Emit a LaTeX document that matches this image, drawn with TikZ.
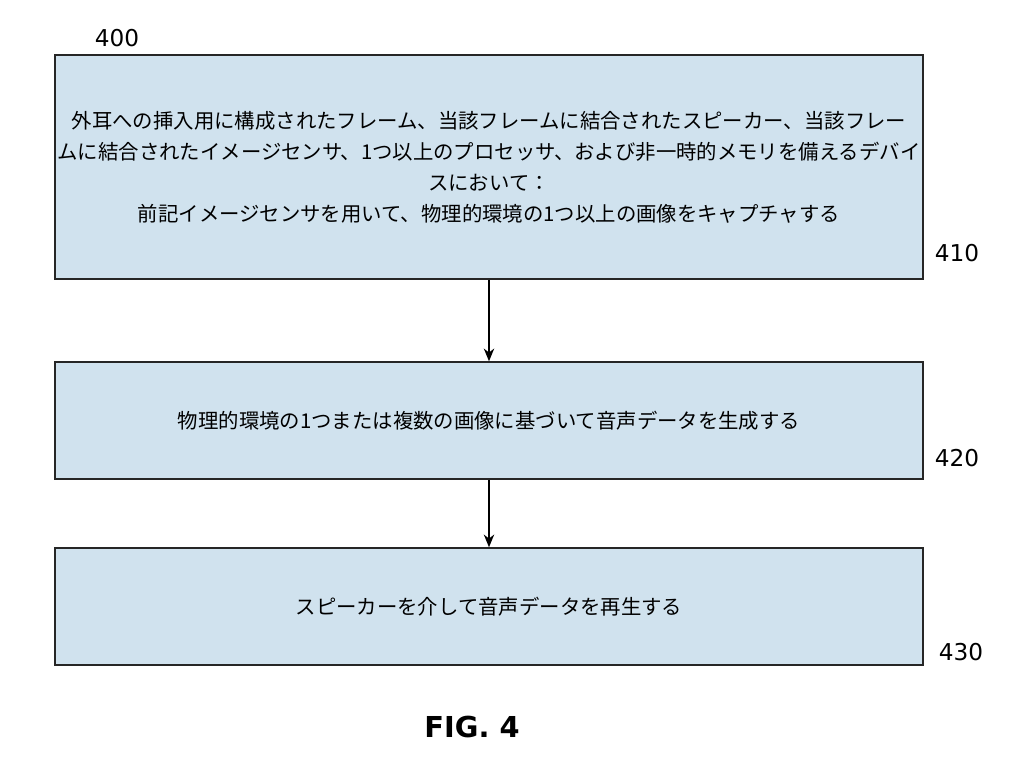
\documentclass[tikz,border=0pt]{standalone}
\usepackage{fontspec}
\setmainfont{DejaVu Sans}
\newfontfamily\jpfont{Noto Sans CJK JP}
\usetikzlibrary{arrows.meta,positioning}
\definecolor{boxblue}{RGB}{208,226,238}

\begin{document}
\begin{tikzpicture}[
  >={Stealth[length=3.2mm,width=2.6mm]},
  line width=1pt,
  block/.style={rectangle, minimum width=21.7cm, minimum height=2.925cm, draw=black!85, fill=boxblue, align=center, inner sep=0pt, font=\jpfont\fontsize{14.5}{22}\selectfont},
  refnum/.style={font=\fontsize{16.5}{18}\selectfont}
]
\useasboundingbox (0,0) rectangle (25.6,19.125);

\node[block, minimum height=5.6cm] (s410) at (12.225,14.95) {%
外耳への挿入用に構成されたフレーム、当該フレームに結合されたスピーカー、当該フレー\\
ムに結合されたイメージセンサ、1つ以上のプロセッサ、および非一時的メモリを備えるデバイ\\
スにおいて：\\
前記イメージセンサを用いて、物理的環境の1つ以上の画像をキャプチャする};
\node[block] (s420) at (12.225,8.6125) {物理的環境の1つまたは複数の画像に基づいて音声データを生成する};
\node[block] (s430) at (12.225,3.9625) {スピーカーを介して音声データを再生する};

\node[refnum] (l400) at (2.925,18.175) {400};
\node[refnum] (l410) at (23.925,12.8) {410};
\node[refnum] (l420) at (23.925,7.675) {420};
\node[refnum] (l430) at (24.025,2.825) {430};
\node[font=\bfseries\fontsize{20.5}{22}\selectfont] (fig) at (11.8,0.95) {FIG. 4};

\draw[->] (s410) -- (s420);
\draw[->] (s420) -- (s430);

\end{tikzpicture}
\end{document}
